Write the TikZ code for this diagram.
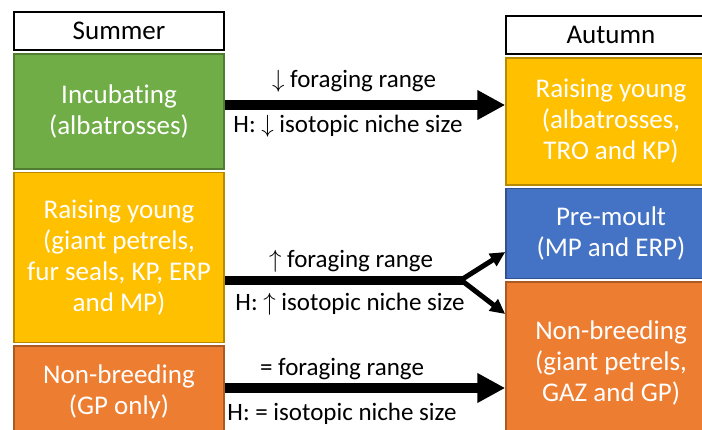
\documentclass[tikz,border=0pt]{standalone}
\usepackage{fontspec}
\setmainfont{Carlito}[Ligatures=NoCommon]
\usetikzlibrary{arrows.meta,positioning}

\definecolor{incgreen}{HTML}{70AD47}
\definecolor{raiseyellow}{HTML}{FFC000}
\definecolor{nonorange}{HTML}{ED7D31}
\definecolor{moultblue}{HTML}{4472C4}

\tikzset{
  season/.style={draw, line width=2pt, fill=white, minimum width=210pt,
    minimum height=38pt, inner sep=0pt, font=\fontsize{27}{31}\selectfont},
  stage/.style={draw=#1!72!black, fill=#1, line width=1.5pt, text=white,
    minimum width=210pt, inner sep=0pt, align=center,
    font=\fontsize{27}{31}\selectfont},
  change/.style={font=\fontsize{25}{29}\selectfont, inner sep=0pt, anchor=base},
  bigarrow/.style={line width=10pt, -{Triangle[length=28pt,width=28pt]}},
  forkarrow/.style={line width=5pt, line join=miter, -{Triangle[length=15pt,width=14pt]}}
}

\begin{document}
\begin{tikzpicture}[x=1pt,y=-1pt]
\clip (0,0) rectangle (702,429);

% summer column
\node[season, anchor=north west] (summer) at (13,11) {Summer};
\node[stage=incgreen, minimum height=115pt, below=2pt of summer] (incub)
  {Incubating\\(albatrosses)};
\node[stage=raiseyellow, minimum height=170pt, below=2pt of incub] (raiseS)
  {Raising young\\(giant petrels,\\fur seals, KP, ERP\\and MP)};
\node[stage=nonorange, minimum height=92pt, below=2pt of raiseS] (nonS)
  {Non-breeding\\(GP only)};

% autumn column
\node[season, anchor=north west] (autumn) at (505,15) {Autumn};
\node[stage=raiseyellow, minimum height=127pt, below=2pt of autumn] (raiseA)
  {Raising young\\(albatrosses,\\TRO and KP)};
\node[stage=moultblue, minimum height=90pt, below=2pt of raiseA] (moult)
  {Pre-moult\\(MP and ERP)};
\node[stage=nonorange, minimum height=162pt, below=2pt of moult] (nonA)
  {Non-breeding\\(giant petrels,\\GAZ and GP)};

% transitions
\coordinate (topline) at (0,105);
\coordinate (fork) at (461,280);
\coordinate (lowline) at (0,388);

\draw[bigarrow] (incub.east |- topline) -- (raiseA.west |- topline);
\draw[line width=9pt] (raiseS.east |- fork) -- ([xshift=2pt]fork);
\draw[forkarrow] (fork) -- ([yshift=27pt]moult.south west);
\draw[forkarrow] (fork) -- ([yshift=-33pt]nonA.north west);
\draw[bigarrow] (nonS.east |- lowline) -- (nonA.west |- lowline);

\node[change] (rangeTop) at (354,87) {$\downarrow$ foraging range};
\node[change] (nicheTop) at (348,132) {H: $\downarrow$ isotopic niche size};
\node[change] (rangeMid) at (351,267) {$\uparrow$ foraging range};
\node[change] (nicheMid) at (350,310) {H: $\uparrow$ isotopic niche size};
\node[change] (rangeLow) at (342,375) {= foraging range};
\node[change] (nicheLow) at (342,420) {H: = isotopic niche size};
\end{tikzpicture}
\end{document}
